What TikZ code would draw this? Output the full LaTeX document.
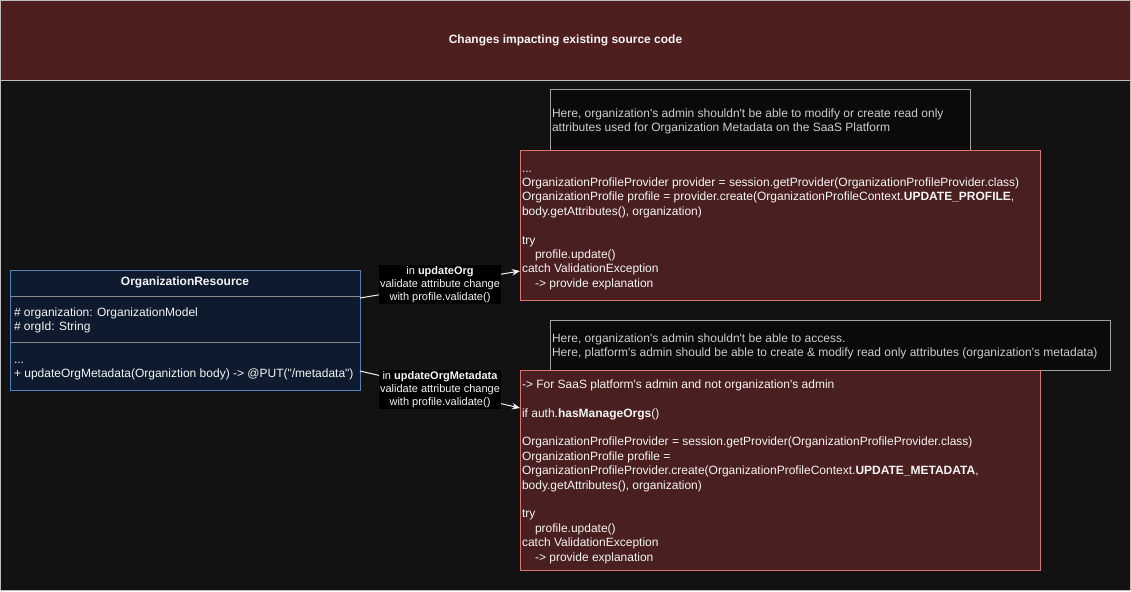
\documentclass[tikz,border=0pt]{standalone}
\usepackage{fontspec}
\setmainfont{Liberation Sans}[Ligatures=TeXOff]
\usetikzlibrary{arrows.meta}
\definecolor{bgc}{HTML}{121212}
\definecolor{hdrfill}{HTML}{4F1E1E}
\definecolor{codefill}{HTML}{4A1F1F}
\definecolor{codeline}{HTML}{E07470}
\definecolor{notefill}{HTML}{0A0A0A}
\definecolor{noteline}{HTML}{A0A0A0}
\definecolor{notetext}{HTML}{CCCCCC}
\definecolor{clsfill}{HTML}{0E1B2E}
\definecolor{clsline}{HTML}{5080C0}
\definecolor{divline}{HTML}{8A8A8A}
\definecolor{framec}{HTML}{BDBDBD}
\definecolor{txt}{HTML}{F4F4F4}
\begin{document}
\begin{tikzpicture}[x=1pt,y=-1pt,
  every node/.style={inner sep=0pt,outer sep=0pt},
  basefont/.style={font=\fontsize{12}{14.4}\selectfont},
  hdrbox/.style={draw=framec,fill=hdrfill,line width=1pt,anchor=north west,text=txt,basefont},
  codebox/.style={draw=codeline,fill=codefill,line width=1pt,anchor=north west},
  notebox/.style={draw=noteline,fill=notefill,line width=1pt,anchor=north west},
  clsbox/.style={draw=clsline,fill=clsfill,line width=1pt,anchor=north west},
  codetext/.style={basefont,text=txt,align=left,anchor=west,yshift=-1.8pt},
  notetxt/.style={basefont,text=notetext,align=left,anchor=west,yshift=-1.5pt},
  clstext/.style={basefont,text=txt,align=left,anchor=west,yshift=-1.5pt},
  divider/.style={draw=divline,line width=1pt},
  edge/.style={draw=txt,line width=1pt,-{Stealth[length=8pt,width=6.5pt]}},
  lab/.style={fill=black,text=txt,align=center,inner xsep=1pt,font=\fontsize{11}{13}\selectfont}
]
\useasboundingbox (0,0) rectangle (1131,591);
\fill[bgc] (0,0) rectangle (1131,591);
\draw[framec,line width=1pt] (0.5,0.5) rectangle (1130.5,590.5);

% header
\node[hdrbox,minimum width=1130pt,minimum height=80pt] (header) at (0.5,0.5) {\raisebox{-1.2pt}{\textbf{Changes impacting existing source code}}};

% note 1 and code 1
\node[notebox,minimum width=420pt,minimum height=60pt] (n1) at (550,90) {};
\node[notetxt] (n1t) at ([xshift=2pt]n1.west) {Here, organization's admin shouldn't be able to modify or create read only\\attributes used for Organization Metadata on the SaaS Platform};

\node[codebox,minimum width=520pt,minimum height=150pt] (c1) at (520,150) {};
\node[codetext] (c1t) at ([xshift=2pt]c1.west) {\strut...\\
OrganizationProfileProvider provider = session.getProvider(OrganizationProfileProvider.class)\\
OrganizationProfile profile = provider.create(OrganizationProfileContext.\textbf{UPDATE\_PROFILE},\\
body.getAttributes(), organization)\\
\strut\\
try\\
\hspace*{13pt}profile.update()\\
catch ValidationException\\
\hspace*{13pt}-> provide explanation\strut};

% note 2 and code 2
\node[notebox,minimum width=560pt,minimum height=50pt] (n2) at (550,320) {};
\node[notetxt] (n2t) at ([xshift=2pt]n2.west) {Here, organization's admin shouldn't be able to access.\\Here, platform's admin should be able to create \& modify read only attributes (organization's metadata)};

\node[codebox,minimum width=520pt,minimum height=200pt] (c2) at (520,370) {};
\node[codetext] (c2t) at ([xshift=2pt]c2.west) {\strut-> For SaaS platform's admin and not organization's admin\\
\strut\\
if auth.\textbf{hasManageOrgs}()\\
\strut\\
OrganizationProfileProvider = session.getProvider(OrganizationProfileProvider.class)\\
OrganizationProfile profile =\\
OrganizationProfileProvider.create(OrganizationProfileContext.\textbf{UPDATE\_METADATA},\\
body.getAttributes(), organization)\\
\strut\\
try\\
\hspace*{13pt}profile.update()\\
catch ValidationException\\
\hspace*{13pt}-> provide explanation\strut};

% class
\node[clsbox,minimum width=350pt,minimum height=120pt] (cls) at (10,270) {};
\node[basefont,text=txt] (clsname) at ([yshift=-12.5pt]cls.north) {\textbf{OrganizationResource}};
\draw[divider] ([yshift=-26pt]cls.north west) -- ([yshift=-26pt]cls.north east);
\draw[divider] ([yshift=-72pt]cls.north west) -- ([yshift=-72pt]cls.north east);
\node[clstext] (attrs) at ([xshift=4pt,yshift=-49pt]cls.north west) {\strut\# organization: OrganizationModel\\\# orgId: String\strut};
\node[clstext] (meths) at ([xshift=4pt,yshift=-96pt]cls.north west) {\strut...\\+ updateOrgMetadata(Organiztion body) -> @PUT("/metadata")\strut};

% connectors
\draw[edge] ([yshift=-28pt]cls.north east) -- node[lab] (l1) {\strut in \textbf{updateOrg}\\validate attribute change\\with profile.validate()\strut} ([yshift=-121pt]c1.north west);
\draw[edge] ([yshift=-101pt]cls.north east) -- node[lab] (l2) {\strut in \textbf{updateOrgMetadata}\\validate attribute change\\with profile.validate()\strut} ([yshift=-38pt]c2.north west);
\end{tikzpicture}
\end{document}
